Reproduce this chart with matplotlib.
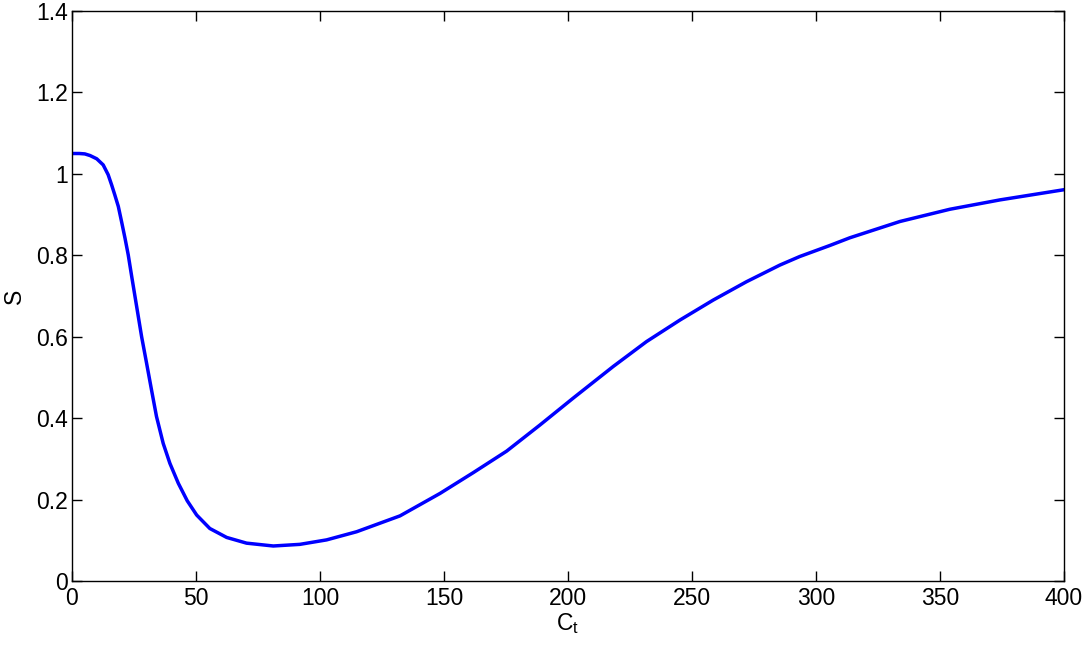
import numpy as np
import matplotlib.pyplot as plt

# values
ct = [0, 3, 5.2, 7.3, 10.0, 12.6, 14.6, 16.0, 17.3, 18.7, 20.0, 21.4, 22.7,
      24.1, 26.1, 28.1, 30.1, 32.1, 34.1, 36.8, 39.5, 42.9, 46.5, 50.3, 55.6,
      62.4, 70.4, 81.2, 91.9, 102.7, 114.8, 132.3, 148.4, 161.8, 175.3, 188.7,
      202.1, 218.3, 231.7, 245.2, 258.6, 272.0, 285.5, 293.5, 305.6, 313.7,
      333.9, 354, 374.2, 400]
s = [1.050, 1.050, 1.049, 1.045, 1.037, 1.022, 0.998, 0.973, 0.948, 0.920,
     0.883, 0.842, 0.801, 0.748, 0.674, 0.600, 0.535, 0.469, 0.404, 0.338,
     0.289, 0.240, 0.197, 0.162, 0.129, 0.107, 0.093, 0.086, 0.090, 0.101,
     0.121, 0.160, 0.215, 0.266, 0.319, 0.383, 0.449, 0.527, 0.588, 0.641,
     0.690, 0.735, 0.776, 0.797, 0.824, 0.843, 0.883, 0.913, 0.936, 0.961]

xticks = [0, 50, 100, 150, 200, 250, 300, 350, 400]
yticks = [0, 0.2, 0.4, 0.6, 0.8, 1, 1.2, 1.4]
yticklabels = ['0', '0.2', '0.4', '0.6', '0.8', '1', '1.2', '1.4']

plt.rcParams['font.family'] = ['Liberation Sans', 'DejaVu Sans']

fig = plt.figure(figsize=(10.9, 6.47), dpi=100)
ax = fig.add_axes([0.066, 0.102, 0.910, 0.881])
ax.plot(ct, s, color='#0000ff', linewidth=2.5, solid_joinstyle='round')

ax.set_xlim(0, 400)
ax.set_ylim(0, 1.4)
ax.set_xticks(xticks)
ax.set_yticks(yticks)
ax.set_yticklabels(yticklabels)
ax.tick_params(direction='in', length=7, width=1, top=True, right=True,
               labelsize=16.5, pad=4)
ax.tick_params(axis='y', pad=3)
for sp in ax.spines.values():
    sp.set_linewidth(1)
ax.set_xlabel('$\\mathregular{C_t}$', fontsize=16.5, labelpad=1)
ax.set_ylabel('S', fontsize=16.5, labelpad=7)

fig.savefig('out.png', dpi=100)
